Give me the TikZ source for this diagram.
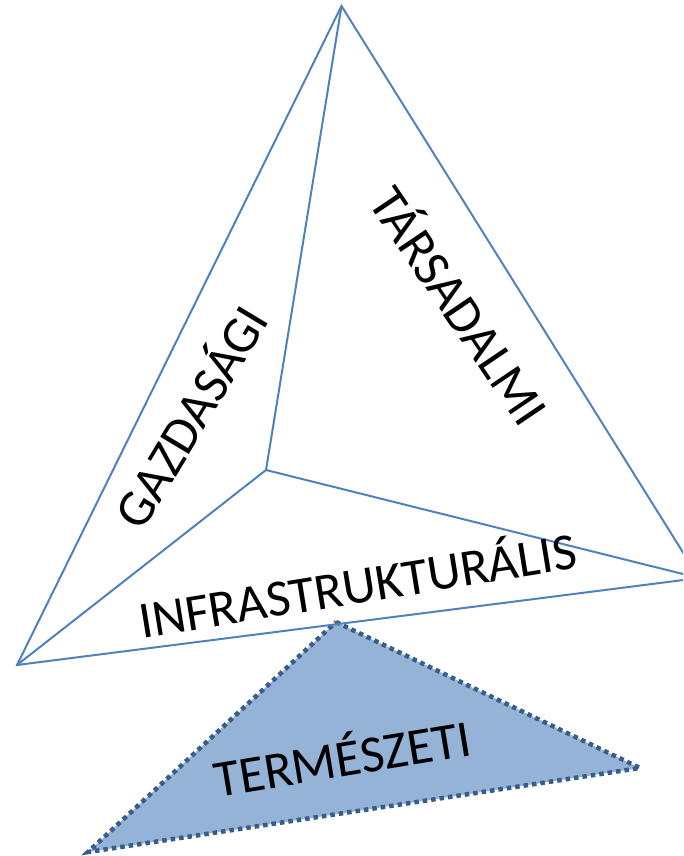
\documentclass[tikz,border=0pt]{standalone}
\usepackage{fontspec}
\setmainfont{Carlito}
\definecolor{edgeblue}{HTML}{4F81BD}
\definecolor{fillblue}{HTML}{95B3D7}
\definecolor{dotblue}{HTML}{385D8A}
\begin{document}
\begin{tikzpicture}[x=1pt,y=-1pt,
  edge/.style={draw=edgeblue,line width=2pt,line join=miter},
  lbl/.style={inner sep=0pt,font=\fontsize{52}{60}\selectfont,text=black},
  natural/.style={fill=fillblue,draw=dotblue,line width=4.5pt,dash pattern=on 4.5pt off 4pt}]
\useasboundingbox (0,0) rectangle (683,856);
\clip (0,0) rectangle (683,856);
\coordinate (apex) at (341.5,6);
\coordinate (left) at (17,665);
\coordinate (right) at (699,578);
\coordinate (inner) at (266,470);
\coordinate (ntop) at (336,622);
\coordinate (nleft) at (88,852);
\coordinate (nright) at (640,768);
\path[natural] (ntop) -- (nright) -- (nleft) -- cycle;
\draw[edge] (apex) -- (left) -- (right) -- cycle;
\draw[edge] (apex) -- (inner) -- (left);
\draw[edge] (inner) -- (right);
\node[lbl,rotate=59] (gaz) at (188,415) {GAZDASÁGI};
\node[lbl,rotate=-56] (tars) at (462,304) {TÁRSADALMI};
\node[lbl,rotate=9.2] (infra) at (357,582) {INFRASTRUKTURÁLIS};
\node[lbl,rotate=9.4] (term) at (342,755) {TERMÉSZETI};
\end{tikzpicture}
\end{document}
